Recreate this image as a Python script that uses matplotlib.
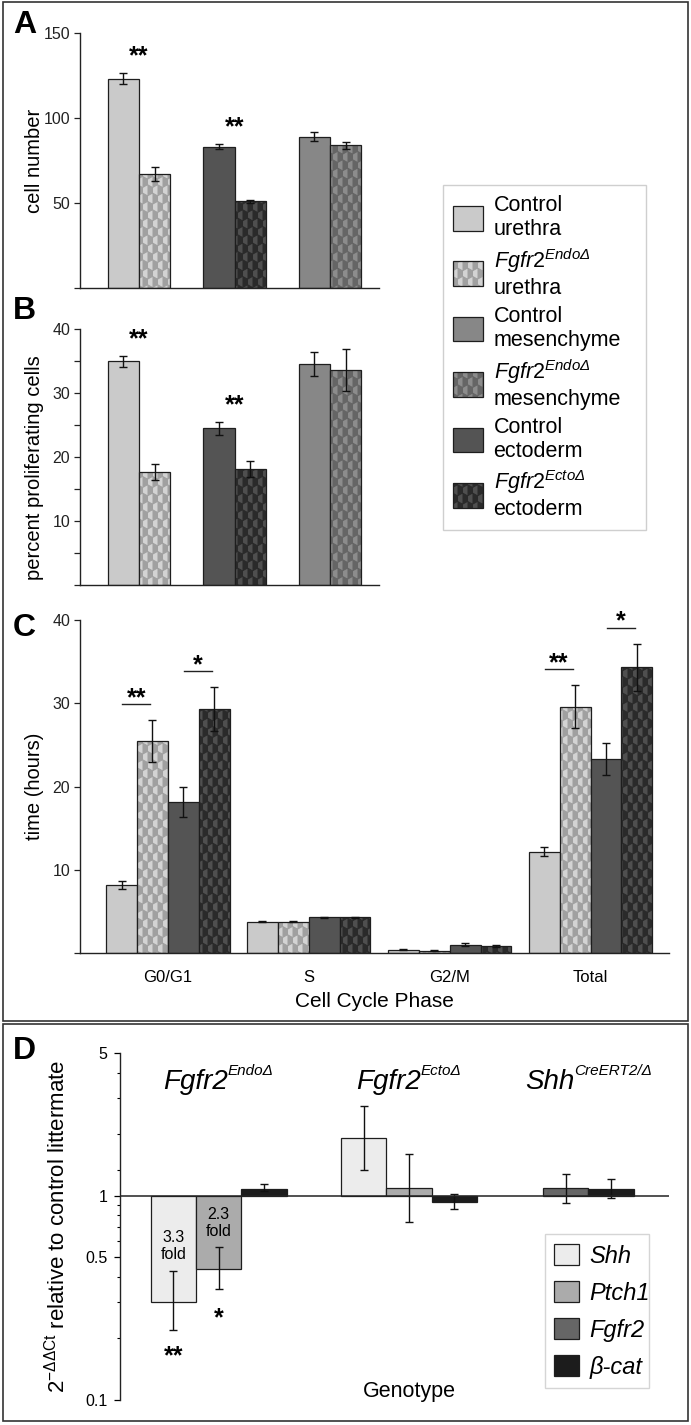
import numpy as np
import matplotlib
matplotlib.use('Agg')
import matplotlib.pyplot as plt
import matplotlib.hatch as mhatch
import matplotlib.colors as mcolors
from matplotlib.patches import Rectangle, Patch
from matplotlib.path import Path
from matplotlib.transforms import offset_copy

# ------------------------------------------------------------------ data
tissues_AB = ['urethra', 'ectoderm', 'mesenchyme']
cellnum_control = [123, 83, 89]
cellnum_control_err = [3.2, 1.5, 2.8]
cellnum_mutant = [67, 51, 84]
cellnum_mutant_err = [3.9, 0.9, 2.0]
sig_A = ['**', '**', '']

prolif_control = [35.0, 24.5, 34.6]
prolif_control_err = [0.9, 1.0, 1.9]
prolif_mutant = [17.7, 18.1, 33.6]
prolif_mutant_err = [1.2, 1.25, 3.3]
sig_B = ['**', '**', '']

phases = ['G0/G1', 'S', 'G2/M', 'Total']
time_ctrl_urethra = [8.2, 3.8, 0.45, 12.2]
time_ctrl_urethra_err = [0.5, 0.1, 0.05, 0.5]
time_mut_urethra = [25.5, 3.8, 0.3, 29.6]
time_mut_urethra_err = [2.5, 0.1, 0.05, 2.6]
time_ctrl_ecto = [18.2, 4.3, 1.05, 23.3]
time_ctrl_ecto_err = [1.8, 0.1, 0.15, 1.95]
time_mut_ecto = [29.3, 4.3, 0.85, 34.3]
time_mut_ecto_err = [2.65, 0.1, 0.1, 2.85]
# (phase index, first bar, second bar, label)
sig_C = [(0, 0, 1, '**'), (0, 2, 3, '*'), (3, 0, 1, '**'), (3, 2, 3, '*')]

genes = ['Shh', 'Ptch1', 'Fgfr2', 'β-cat']
genotype_base = ['Fgfr2', 'Fgfr2', 'Shh']
genotype_sup = ['EndoΔ', 'EctoΔ', 'CreERT2/Δ']
nan = np.nan
expr_endo = [0.303, 0.435, nan, 1.08]
expr_endo_lo = [0.22, 0.35, nan, 1.05]
expr_endo_hi = [0.43, 0.56, nan, 1.14]
expr_ecto = [1.92, 1.09, nan, 0.93]
expr_ecto_lo = [1.34, 0.744, nan, 0.855]
expr_ecto_hi = [2.73, 1.60, nan, 1.02]
expr_shhcre = [nan, nan, 1.09, 1.08]
expr_shhcre_lo = [nan, nan, 0.924, 0.975]
expr_shhcre_hi = [nan, nan, 1.27, 1.20]
fold_labels_endo = ['3.3\nfold', '2.3\nfold', '', '']
sig_endo = ['**', '*', '', '']

# ------------------------------------------------------------------ style
plt.rcParams['font.family'] = ['Liberation Sans', 'DejaVu Sans']
plt.rcParams['mathtext.fontset'] = 'custom'
plt.rcParams['mathtext.rm'] = 'Liberation Sans'
plt.rcParams['mathtext.it'] = 'Liberation Sans:italic'
plt.rcParams['mathtext.bf'] = 'Liberation Sans:bold'
plt.rcParams['mathtext.sf'] = 'Liberation Sans:italic'
plt.rcParams['hatch.linewidth'] = 0.75
plt.rcParams['axes.linewidth'] = 1.0


class HexHatch(mhatch.HatchPatternBase):
    """Honeycomb hatch (pointy-top hexagons) triggered by 'o'."""
    NC = 10
    NP = 6

    def __init__(self, hatch, density):
        self.verts = []
        self.codes = []
        if 'o' in hatch:
            w = 1.0 / self.NC
            r = 1.0 / (3 * self.NP)
            sx = w / 4.0
            for j in range(-1, 2 * self.NP + 2):
                cy = j * 1.5 * r + r / 4.0
                off = (j % 2) * w / 2
                for i in range(-1, self.NC + 2):
                    cx = i * w + off + sx
                    pts = [(cx, cy + r), (cx + w / 2, cy + r / 2),
                           (cx + w / 2, cy - r / 2), (cx, cy - r)]
                    self.verts.extend(pts)
                    self.codes.extend([Path.MOVETO, Path.LINETO,
                                       Path.LINETO, Path.LINETO])
        self.num_vertices = len(self.verts)

    def set_vertices_and_codes(self, vertices, codes):
        vertices[:] = np.array(self.verts)
        codes[:] = np.array(self.codes)


mhatch._hatch_types = [HexHatch] + [t for t in mhatch._hatch_types
                                    if t is not mhatch.SmallCircles]

W, H = 691, 1425
fig = plt.figure(figsize=(W / 100, H / 100), dpi=100)


def ax_px(l, t, r, b):
    return fig.add_axes([l / W, 1 - b / H, (r - l) / W, (b - t) / H])


EDGE = '#1e1e1e'
FS_TICK = 11.5
FS_LAB = 14.5

# colours per tissue
col_ctrl = {'urethra': '#cacaca', 'ectoderm': '#545454', 'mesenchyme': '#878787'}
col_mut = {'urethra': '#d3d3d3', 'ectoderm': '#4f4f4f', 'mesenchyme': '#8c8c8c'}
col_hatch = {'urethra': '#a0a0a0', 'ectoderm': '#2a2a2a', 'mesenchyme': '#656565'}

err_kw = dict(ecolor='#111111', elinewidth=1.0, capsize=2.6, capthick=1.0)


def set_hatch_color(patches, colors):
    for p, c in zip(patches, colors):
        p._hatch_color = mcolors.to_rgba(c)
        p.stale = True


def style_axes(ax):
    for s in ['top', 'right']:
        ax.spines[s].set_visible(False)
    for s in ['left', 'bottom']:
        ax.spines[s].set_color('#222222')
    ax.tick_params(axis='y', direction='out', length=4, width=0.9,
                   labelsize=FS_TICK, pad=3, colors='#222222')


def paired_panel(ax, ctrl, ctrl_err, mut, mut_err, sig, ylim, yticks, ylabels, ylabel):
    x = np.arange(len(tissues_AB))
    w = 0.325
    ax.bar(x - w / 2, ctrl, w, yerr=ctrl_err,
           color=[col_ctrl[t] for t in tissues_AB], edgecolor=EDGE,
           linewidth=0.9, error_kw=err_kw, zorder=2)
    b2 = ax.bar(x + w / 2, mut, w, yerr=mut_err,
                color=[col_mut[t] for t in tissues_AB], edgecolor=EDGE,
                linewidth=0.9, hatch='o', error_kw=err_kw, zorder=2)
    set_hatch_color(b2.patches, [col_hatch[t] for t in tissues_AB])
    for i, s in enumerate(sig):
        if s:
            top = max(ctrl[i] + ctrl_err[i], mut[i] + mut_err[i])
            ax.annotate(s, xy=(x[i], top), xytext=(0, 7), textcoords='offset points',
                        ha='center', va='baseline', fontsize=18, fontweight='bold')
    ax.set_xlim(-0.618, 2.513)
    ax.set_ylim(*ylim)
    ax.set_yticks(yticks)
    ax.set_yticklabels(ylabels)
    ax.set_xticks([])
    style_axes(ax)
    ax.set_ylabel(ylabel, fontsize=FS_LAB)


# ------------------------------------------------------------------ panel A
axA = ax_px(80, 33, 379, 288)
paired_panel(axA, cellnum_control, cellnum_control_err, cellnum_mutant,
             cellnum_mutant_err, sig_A, (0, 150), [0, 50, 100, 150],
             ['', '50', '100', '150'], 'cell number')
axA.yaxis.set_label_coords(-0.12, 0.5)

# ------------------------------------------------------------------ panel B
axB = ax_px(80, 329.3, 379, 585.3)
paired_panel(axB, prolif_control, prolif_control_err, prolif_mutant,
             prolif_mutant_err, sig_B, (0, 40), list(range(0, 45, 5)),
             ['', '', '10', '', '20', '', '30', '', '40'], 'percent proliferating cells')
axB.yaxis.set_label_coords(-0.12, 0.46)

# ------------------------------------------------------------------ panel C
axC = ax_px(79.8, 620, 668.5, 953.3)
xc = np.arange(len(phases))
wc = 0.219
series_C = [
    (time_ctrl_urethra, time_ctrl_urethra_err, col_ctrl['urethra'], None),
    (time_mut_urethra, time_mut_urethra_err, col_mut['urethra'], col_hatch['urethra']),
    (time_ctrl_ecto, time_ctrl_ecto_err, col_ctrl['ectoderm'], None),
    (time_mut_ecto, time_mut_ecto_err, col_mut['ectoderm'], col_hatch['ectoderm']),
]
offsets = (np.arange(4) - 1.5) * wc
for k, (vals, errs, fc, hc) in enumerate(series_C):
    bc = axC.bar(xc + offsets[k], vals, wc, yerr=errs, color=fc, edgecolor=EDGE,
                 linewidth=0.9, hatch='o' if hc else None, error_kw=err_kw, zorder=2)
    if hc:
        set_hatch_color(bc.patches, [hc] * len(vals))

line_tr = offset_copy(axC.transData, fig=fig, x=0, y=16, units='dots')
for ph, i, j, s in sig_C:
    vi, ei = series_C[i][0][ph], series_C[i][1][ph]
    vj, ej = series_C[j][0][ph], series_C[j][1][ph]
    top = max(vi + ei, vj + ej)
    x1 = xc[ph] + offsets[i] + 0.005
    x2 = xc[ph] + offsets[j] - 0.015
    axC.plot([x1, x2], [top, top], color='#222222', lw=1.0, transform=line_tr,
             clip_on=False)
    axC.annotate(s, xy=((x1 + x2) / 2, top), xytext=(0, 10.8),
                 textcoords='offset points', ha='center', va='baseline',
                 fontsize=18, fontweight='bold')

axC.set_xlim(-0.625, 3.553)
axC.set_ylim(0, 40)
axC.set_yticks([0, 10, 20, 30, 40])
axC.set_yticklabels(['', '10', '20', '30', '40'])
axC.set_xticks(xc)
axC.set_xticklabels(phases)
style_axes(axC)
axC.tick_params(axis='x', length=0, pad=12, labelsize=12)
axC.set_ylabel('time (hours)', fontsize=FS_LAB)
axC.yaxis.set_label_coords(-0.061, 0.5)
axC.set_xlabel('Cell Cycle Phase', fontsize=15, labelpad=5)

# ------------------------------------------------------------------ legend A-C
leg_entries = [
    ('Control\nurethra', col_ctrl['urethra'], None),
    (r'$\mathit{Fgfr2}^{\mathit{Endo}\mathsf{Δ}}$' + '\nurethra', col_mut['urethra'], col_hatch['urethra']),
    ('Control\nmesenchyme', col_ctrl['mesenchyme'], None),
    (r'$\mathit{Fgfr2}^{\mathit{Endo}\mathsf{Δ}}$' + '\nmesenchyme', col_mut['mesenchyme'], col_hatch['mesenchyme']),
    ('Control\nectoderm', col_ctrl['ectoderm'], None),
    (r'$\mathit{Fgfr2}^{\mathit{Ecto}\mathsf{Δ}}$' + '\nectoderm', col_mut['ectoderm'], col_hatch['ectoderm']),
]
handles = []
for lab, fc, hc in leg_entries:
    p = Patch(facecolor=fc, edgecolor=EDGE, linewidth=0.9, hatch='o' if hc else None)
    if hc:
        p._hatch_color = mcolors.to_rgba(hc)
    handles.append(p)
legA = fig.legend(handles, [e[0] for e in leg_entries], loc='upper left',
                  bbox_to_anchor=(443 / W, 1 - 523 / H, 203 / W, 338 / H),
                  bbox_transform=fig.transFigure, mode='expand', borderaxespad=0,
                  fontsize=15.5, handlelength=1.4, handleheight=1.4,
                  handletextpad=0.5, labelspacing=0.3, borderpad=0.45,
                  fancybox=False, edgecolor='#cfcfcf', framealpha=1)
legA.get_frame().set_linewidth(1.0)

# ------------------------------------------------------------------ panel D
axD = ax_px(119.8, 1052.7, 668.5, 1400)
axD.set_yscale('log')
gene_colors = ['#ececec', '#ababab', '#666666', '#1c1c1c']
group_start = [0.68, 4.88, 9.34]
groups = [(expr_endo, expr_endo_lo, expr_endo_hi),
          (expr_ecto, expr_ecto_lo, expr_ecto_hi),
          (expr_shhcre, expr_shhcre_lo, expr_shhcre_hi)]
errD_kw = dict(ecolor='#111111', elinewidth=1.0, capsize=2.6, capthick=1.0)
group_label_parts = []
for g, (vals, lo, hi) in enumerate(groups):
    present = [k for k in range(len(genes)) if not np.isnan(vals[k])]
    xs = group_start[g] + 0.5 + np.arange(len(present))
    v = np.array([vals[k] for k in present])
    yerr = [v - np.array([lo[k] for k in present]), np.array([hi[k] for k in present]) - v]
    axD.bar(xs, v - 1, 1.0, bottom=1, yerr=yerr,
            color=[gene_colors[k] for k in present], edgecolor=EDGE, linewidth=0.9,
            error_kw=errD_kw, zorder=2)
    base = axD.text(xs.mean(), 3.6, genotype_base[g], ha='left', va='center',
                    fontsize=20, style='italic')
    sup = axD.annotate(genotype_sup[g], xy=(1.0, 0.66), xycoords=base,
                       ha='left', va='bottom', fontsize=11, style='italic')
    group_label_parts.append((xs.mean(), base, sup))
    if g == 0:
        for n, k in enumerate(present):
            if fold_labels_endo[k]:
                dy = -25 if k == 0 else -8.5
                axD.annotate(fold_labels_endo[k], xy=(xs[n], 1), xytext=(0, dy),
                             textcoords='offset points', ha='center', va='top',
                             fontsize=11.5, linespacing=1.1, zorder=3)
            if sig_endo[k]:
                dy = -24 if k == 0 else -26
                axD.annotate(sig_endo[k], xy=(xs[n], lo[k]), xytext=(0, dy),
                             textcoords='offset points', ha='center', va='baseline',
                             fontsize=18, fontweight='bold')

axD.axhline(1, color='#222222', lw=1.1, zorder=3)
axD.set_xlim(0, 12.11)
axD.set_ylim(0.1, 5)
axD.set_yticks([0.1, 0.5, 1, 5])
axD.set_yticklabels(['0.1', '0.5', '1', '5'])
axD.set_yticks([0.2, 0.3, 0.4, 0.6, 0.7, 0.8, 0.9, 1.33, 2, 3, 4], minor=True)
axD.yaxis.set_minor_formatter(matplotlib.ticker.NullFormatter())
axD.set_xticks([])
for s in ['top', 'right', 'bottom']:
    axD.spines[s].set_visible(False)
axD.spines['left'].set_color('#222222')
axD.tick_params(axis='y', which='major', direction='out', length=4, width=0.9,
                labelsize=FS_TICK, pad=5)
axD.tick_params(axis='y', which='minor', direction='out', length=2.5, width=0.8)
axD.set_ylabel(r'2$^{\mathregular{-ΔΔCt}}$ relative to control littermate',
               fontsize=16)
axD.yaxis.set_label_coords(-0.091, 0.5)
axD.text(6.4, 0.11, 'Genotype', ha='center', va='center', fontsize=15.5)

handlesD = [Patch(facecolor=c, edgecolor=EDGE, linewidth=0.9) for c in gene_colors]
legD = axD.legend(handlesD, genes, loc='lower left',
                  bbox_to_anchor=(0.775, 0.0346, 0.19, 0.46), mode='expand',
                  borderaxespad=0, prop=dict(size=17, style='italic'),
                  handlelength=1.02, handleheight=1.05, handletextpad=0.45,
                  labelspacing=0.55, borderpad=0.4, fancybox=False,
                  edgecolor='#d5d5d5', framealpha=1)
legD.get_frame().set_linewidth(1.0)

# ------------------------------------------------------------------ panel letters & boxes
for letter, ypx in [('A', 25), ('B', 311), ('C', 628), ('D', 1051)]:
    fig.text(13 / W, 1 - ypx / H, letter, ha='left', va='center', fontsize=23,
             fontweight='bold')

fig.add_artist(Rectangle((3 / W, 1 - 1021 / H), 685 / W, 1019 / H, transform=fig.transFigure,
                         fill=False, edgecolor='#333333', lw=1.2))
fig.add_artist(Rectangle((3 / W, 1 - 1421 / H), 685 / W, 397 / H, transform=fig.transFigure,
                         fill=False, edgecolor='#333333', lw=1.2))

# centre the composite genotype labels (base + superscript) over their groups
fig.canvas.draw()
renderer = fig.canvas.get_renderer()
px_per_unit = axD.transData.transform((1, 1))[0] - axD.transData.transform((0, 1))[0]
for xcen, base, sup in group_label_parts:
    wtot = base.get_window_extent(renderer).width + sup.get_window_extent(renderer).width
    base.set_x(xcen - wtot / 2 / px_per_unit)

fig.savefig('out.png', dpi=100, facecolor='white')
